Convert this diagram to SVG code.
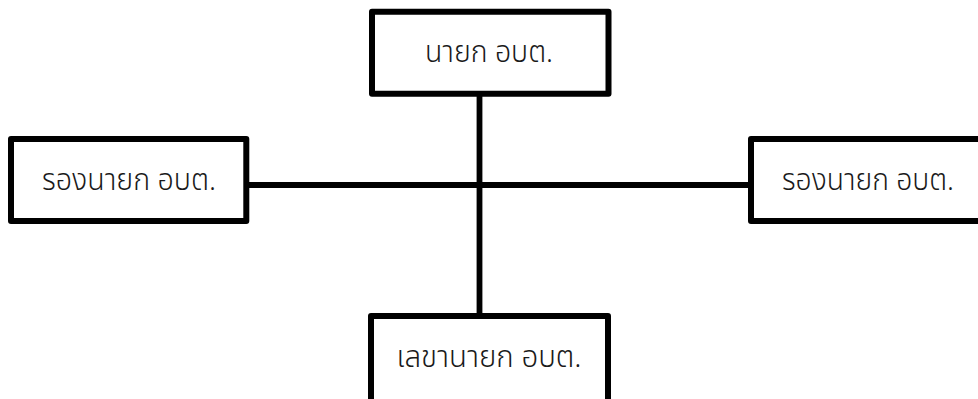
<svg xmlns="http://www.w3.org/2000/svg" width="978" height="399" viewBox="0 0 978 399">
<style>
.box{fill:#fff;stroke:#000;stroke-width:6;stroke-linejoin:round}
.lbl{font-family:"Noto Sans Thai","Noto Sans","DejaVu Sans",sans-serif;font-size:30px;font-weight:350;fill:#1a1a1a;text-anchor:middle}
.conn{stroke:#000;stroke-width:5.8;fill:none}
</style>
<rect width="978" height="399" fill="#fff"/>
<g id="connectors">
<line class="conn" x1="479.5" y1="94" x2="479.5" y2="316"/>
<line class="conn" x1="246" y1="185" x2="751" y2="185"/>
</g>
<g id="n-top">
<rect class="box" x="372" y="11.7" width="236.5" height="82"/>
<text class="lbl" x="489" y="62" textLength="128" lengthAdjust="spacingAndGlyphs">นายก อบต.</text>
</g>
<g id="n-left">
<rect class="box" x="11" y="139" width="235.3" height="82"/>
<text class="lbl" x="129" y="190" textLength="174" lengthAdjust="spacingAndGlyphs">รองนายก อบต.</text>
</g>
<g id="n-right">
<rect class="box" x="751" y="139" width="240" height="82"/>
<text class="lbl" x="868" y="190" textLength="172" lengthAdjust="spacingAndGlyphs">รองนายก อบต.</text>
</g>
<g id="n-bottom">
<rect class="box" x="371" y="316" width="237" height="100"/>
<text class="lbl" x="489" y="366.5" textLength="185" lengthAdjust="spacingAndGlyphs">เลขานายก อบต.</text>
</g>
</svg>
